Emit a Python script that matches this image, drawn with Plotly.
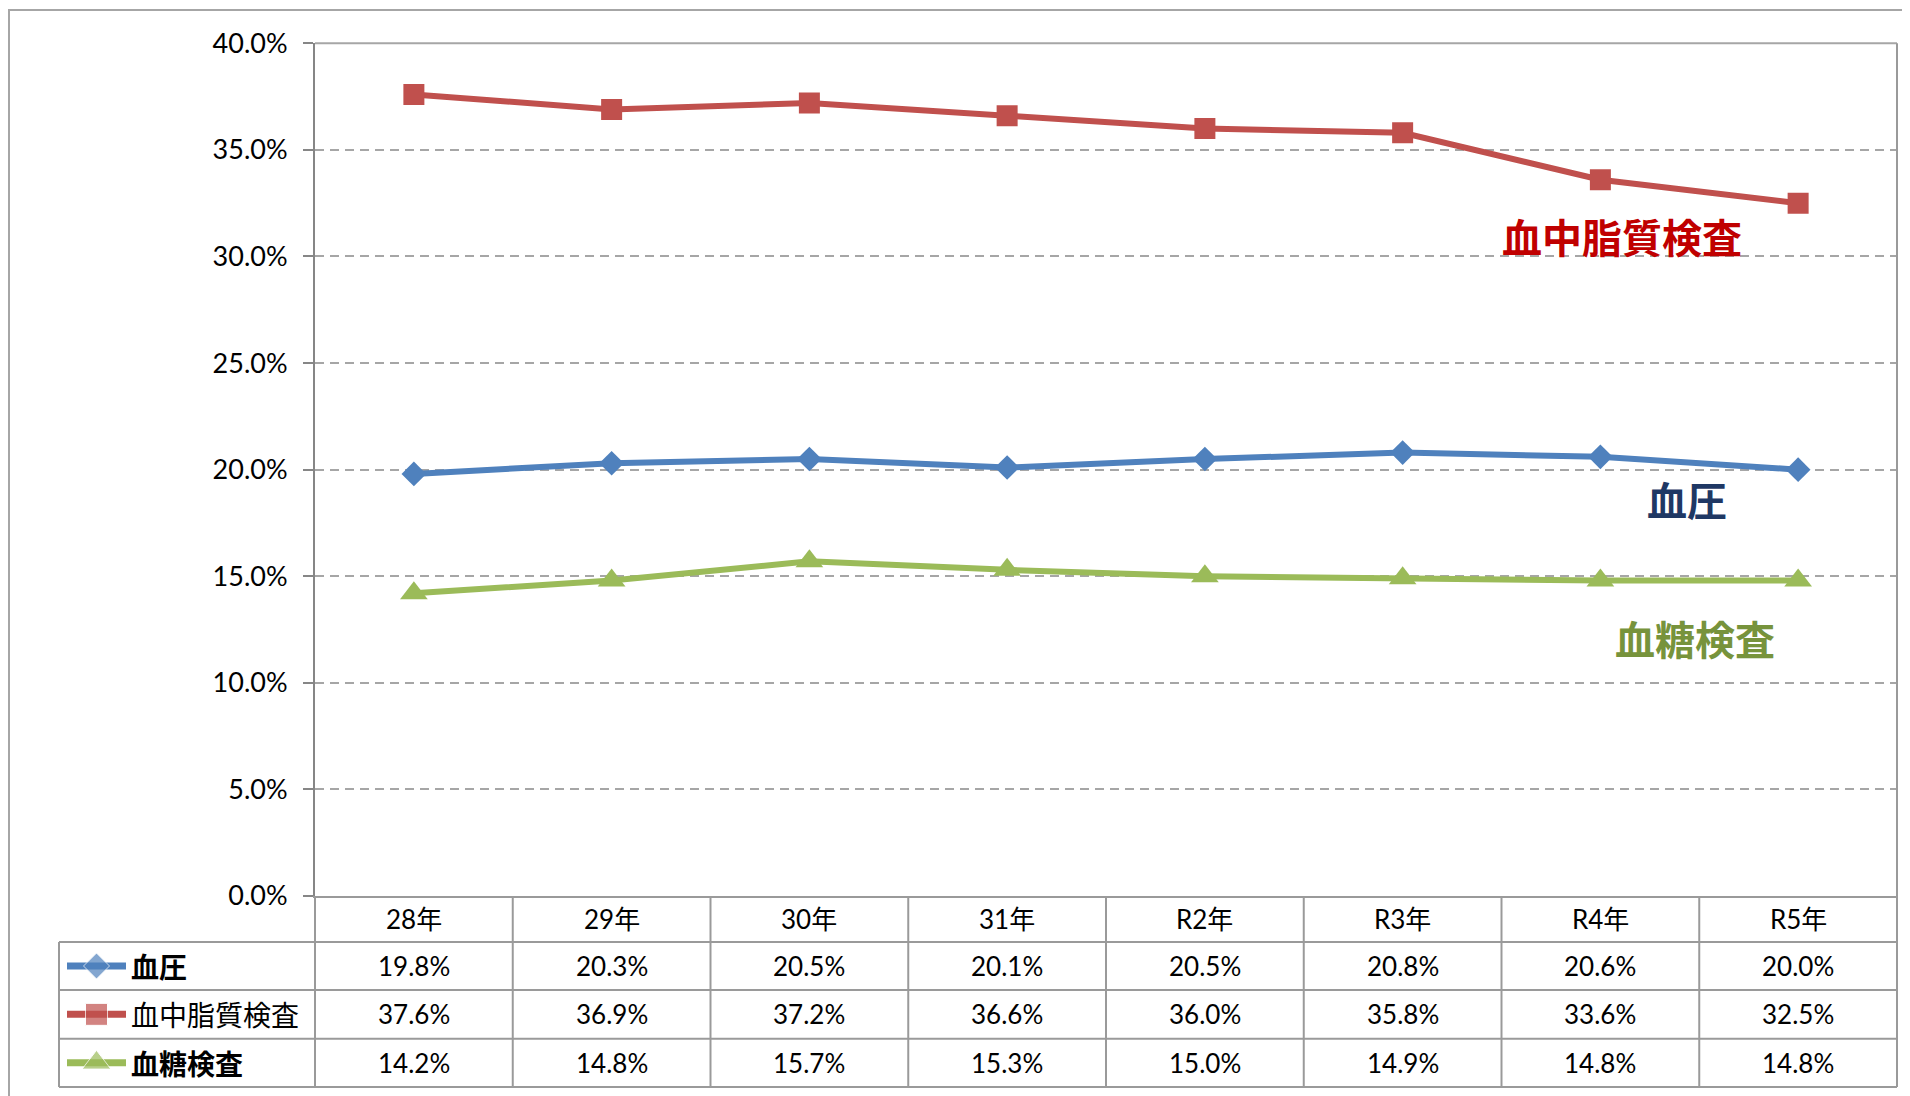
import plotly.graph_objects as go

# data
years = ["28年", "29年", "30年", "31年", "R2年", "R3年", "R4年", "R5年"]
blood_pressure = [19.8, 20.3, 20.5, 20.1, 20.5, 20.8, 20.6, 20.0]
blood_lipid = [37.6, 36.9, 37.2, 36.6, 36.0, 35.8, 33.6, 32.5]
blood_sugar = [14.2, 14.8, 15.7, 15.3, 15.0, 14.9, 14.8, 14.8]
series_names = ["血圧", "血中脂質検査", "血糖検査"]

# the page body has an 8px margin, so the figure is drawn from (8, 8)
OFF = 8
W, H = 1910 - OFF, 1096 - OFF
PL, PR, PT, PB = 315, 1897, 43.3, 896   # plot area in screen pixels
ROWS = [942, 990, 1038.7, 1087]         # table row bottoms
TABLE_LEFT = 59

blue, red, green = "#4F81BD", "#C0504D", "#9BBB59"
grid_grey = "#A6A6A6"
axis_grey = "#868686"
num_font = "Lato, 'Noto Sans CJK JP'"
jp_font = "'Noto Sans CJK JP'"


def fx(x):
    return (x - OFF) / W


def fy(y):
    return 1 - (y - OFF) / H


series = [
    (series_names[0], blood_pressure, blue, "diamond", 19, True),
    (series_names[1], blood_lipid, red, "square", 21, False),
    (series_names[2], blood_sugar, green, "triangle-up", 24, True),
]

fig = go.Figure()
for name, vals, color, sym, size, bold in series:
    fig.add_trace(go.Scatter(x=years, y=vals, name=name, mode="lines+markers",
                             line=dict(color=color, width=6),
                             marker=dict(symbol=sym, size=size, color=color),
                             showlegend=False))

# legend keys inside the data table (overlay pixel axes)
row_mid = [(a + b) / 2 for a, b in zip([PB] + ROWS[:-1], ROWS)]
for i, (name, vals, color, sym, size, bold) in enumerate(series):
    yk = row_mid[i + 1]
    fig.add_trace(go.Scatter(x=[67, 96.5, 126], y=[yk, yk, yk], mode="lines+markers",
                             line=dict(color=color, width=7),
                             marker=dict(symbol=sym, size=[0, size + 1, 0], color=color),
                             xaxis="x2", yaxis="y2", showlegend=False, hoverinfo="skip"))

shapes = []
line_style = dict(color="#9A9A9A", width=2)
# outer chart border
shapes.append(dict(type="rect", xref="paper", yref="paper", x0=fx(9), x1=fx(1930),
                   y0=fy(1120), y1=fy(10), line=dict(color=grid_grey, width=2)))
# plot area top and right border
shapes.append(dict(type="line", xref="paper", yref="paper", x0=fx(PL), x1=fx(PR),
                   y0=fy(PT), y1=fy(PT), line=dict(color=grid_grey, width=2)))
shapes.append(dict(type="line", xref="paper", yref="paper", x0=fx(PR), x1=fx(PR),
                   y0=fy(PT), y1=fy(ROWS[-1]), line=line_style))
# table horizontal lines
for yr in ROWS:
    shapes.append(dict(type="line", xref="paper", yref="paper", x0=fx(TABLE_LEFT), x1=fx(PR),
                       y0=fy(yr), y1=fy(yr), line=line_style))
# table vertical lines
shapes.append(dict(type="line", xref="paper", yref="paper", x0=fx(TABLE_LEFT), x1=fx(TABLE_LEFT),
                   y0=fy(ROWS[0]), y1=fy(ROWS[-1]), line=line_style))
shapes.append(dict(type="line", xref="paper", yref="paper", x0=fx(PL), x1=fx(PL),
                   y0=fy(PB), y1=fy(ROWS[-1]), line=line_style))
for i in range(1, len(years)):
    shapes.append(dict(type="line", xref="x", yref="paper", x0=i - 0.5, x1=i - 0.5,
                       y0=fy(PB), y1=fy(ROWS[-1]), line=line_style))

annotations = []
# header row
for i, yr in enumerate(years):
    annotations.append(dict(x=i, y=fy(row_mid[0]), xref="x", yref="paper", text=yr,
                            showarrow=False, yanchor="middle",
                            font=dict(family=num_font, size=26, color="black")))
# value rows
for r, (name, vals, color, sym, size, bold) in enumerate(series):
    for i, v in enumerate(vals):
        annotations.append(dict(x=i, y=fy(row_mid[r + 1]), xref="x", yref="paper",
                                text=f"{v:.1f}%", showarrow=False, yanchor="middle",
                                font=dict(family=num_font, size=26, color="black")))
    label = f"<b>{name}</b>" if bold else name
    annotations.append(dict(x=fx(129), y=fy(row_mid[r + 1]), xref="paper", yref="paper",
                            text=label, showarrow=False, xanchor="left", yanchor="middle",
                            font=dict(family=jp_font, size=28, color="black")))

# series labels inside the chart
annotations += [
    dict(x=6.11, y=30.95, xref="x", yref="y", text="<b>血中脂質検査</b>", showarrow=False,
         font=dict(family=jp_font, size=40, color="#C00000")),
    dict(x=6.44, y=18.6, xref="x", yref="y", text="<b>血圧</b>", showarrow=False,
         font=dict(family=jp_font, size=40, color="#1F3864")),
    dict(x=6.48, y=12.1, xref="x", yref="y", text="<b>血糖検査</b>", showarrow=False,
         font=dict(family=jp_font, size=40, color="#77933C")),
]

fig.update_layout(
    width=W, height=H,
    margin=dict(l=0, r=0, t=0, b=0),
    paper_bgcolor="white", plot_bgcolor="rgba(0,0,0,0)",
    xaxis=dict(domain=[fx(PL), fx(PR)], type="category", range=[-0.5, len(years) - 0.5],
               showgrid=False, showticklabels=False, showline=True,
               linecolor="#9A9A9A", linewidth=2, ticks="", automargin=False),
    yaxis=dict(domain=[fy(PB), fy(PT)], range=[0, 40], dtick=5, tickformat=".1f",
               ticksuffix="%", showgrid=True, gridcolor=grid_grey, gridwidth=2,
               griddash="9px,6px", showline=True, linecolor=axis_grey, linewidth=2,
               ticks="outside", ticklen=10, tickcolor=axis_grey, tickwidth=2,
               ticklabelstandoff=10, zeroline=False, automargin=False,
               tickfont=dict(family=num_font, size=27, color="black")),
    xaxis2=dict(domain=[0, 1], range=[OFF, OFF + W], visible=False, fixedrange=True),
    yaxis2=dict(domain=[0, 1], range=[OFF + H, OFF], visible=False, fixedrange=True),
    shapes=shapes,
    annotations=annotations,
)

fig.write_html("out.html")
